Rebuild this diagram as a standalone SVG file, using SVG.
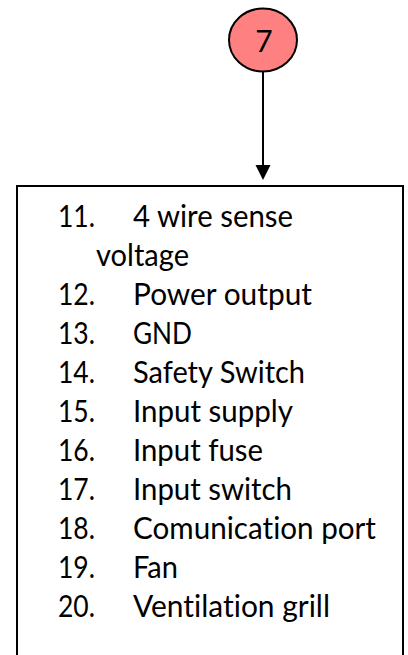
<svg xmlns="http://www.w3.org/2000/svg" width="408" height="655" viewBox="0 0 408 655">
<style>
.t{font-family:Lato,"Open Sans","Liberation Sans",sans-serif;font-size:30px;fill:#000;font-variant-ligatures:none}
.n{stroke:#000;stroke-width:2}
</style>
<rect width="408" height="655" fill="#fff"/>
<g id="connectors">
<line x1="263" y1="71" x2="263" y2="166" stroke="#000" stroke-width="2"/>
<path d="M255.5,165 L270.5,165 L263,180 Z" fill="#000"/>
</g>
<g id="node7">
<ellipse class="n" cx="263" cy="40" rx="34" ry="31.5" fill="#FF8080"/>
<text class="t" x="264" y="52" text-anchor="middle">7</text>
</g>
<g id="list">
<rect class="n" x="17" y="186" width="386" height="500" fill="none"/>
<text class="t" x="58" y="227" textLength="37" lengthAdjust="spacingAndGlyphs">11.</text>
<text class="t" x="133" y="227" textLength="160" lengthAdjust="spacingAndGlyphs">4 wire sense</text>
<text class="t" x="96" y="266" textLength="93" lengthAdjust="spacingAndGlyphs">voltage</text>
<text class="t" x="58" y="305" textLength="37" lengthAdjust="spacingAndGlyphs">12.</text>
<text class="t" x="133" y="305" textLength="179" lengthAdjust="spacingAndGlyphs">Power output</text>
<text class="t" x="58" y="344" textLength="37" lengthAdjust="spacingAndGlyphs">13.</text>
<text class="t" x="133" y="344" textLength="59" lengthAdjust="spacingAndGlyphs">GND</text>
<text class="t" x="58" y="383" textLength="37" lengthAdjust="spacingAndGlyphs">14.</text>
<text class="t" x="133" y="383" textLength="172" lengthAdjust="spacingAndGlyphs">Safety Switch</text>
<text class="t" x="58" y="422" textLength="37" lengthAdjust="spacingAndGlyphs">15.</text>
<text class="t" x="133" y="422" textLength="160" lengthAdjust="spacingAndGlyphs">Input supply</text>
<text class="t" x="58" y="461" textLength="37" lengthAdjust="spacingAndGlyphs">16.</text>
<text class="t" x="133" y="461" textLength="130" lengthAdjust="spacingAndGlyphs">Input fuse</text>
<text class="t" x="58" y="500" textLength="37" lengthAdjust="spacingAndGlyphs">17.</text>
<text class="t" x="133" y="500" textLength="159" lengthAdjust="spacingAndGlyphs">Input switch</text>
<text class="t" x="58" y="539" textLength="37" lengthAdjust="spacingAndGlyphs">18.</text>
<text class="t" x="133" y="539" textLength="243" lengthAdjust="spacingAndGlyphs">Comunication port</text>
<text class="t" x="58" y="578" textLength="37" lengthAdjust="spacingAndGlyphs">19.</text>
<text class="t" x="133" y="578" textLength="45" lengthAdjust="spacingAndGlyphs">Fan</text>
<text class="t" x="58" y="617" textLength="37" lengthAdjust="spacingAndGlyphs">20.</text>
<text class="t" x="133" y="617" textLength="197" lengthAdjust="spacingAndGlyphs">Ventilation grill</text>
</g>
</svg>
